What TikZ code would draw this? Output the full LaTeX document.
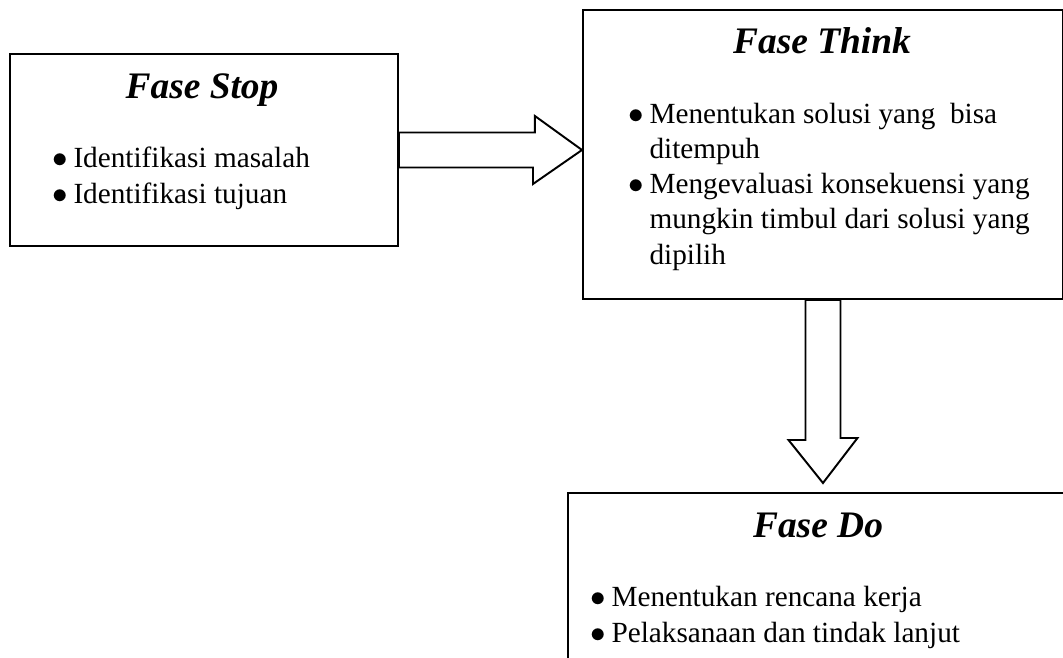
\documentclass[tikz,border=0pt]{standalone}
\usepackage{fontspec}
\setmainfont{Liberation Serif}
\usetikzlibrary{positioning,calc}
\newcommand{\bul}{\makebox[9.8pt][l]{$\bullet$}}
\newcommand{\ind}{\hspace*{9.8pt}}

\begin{document}
\begin{tikzpicture}[
  x=0.465pt, y=-0.465pt,
  fase/.style={draw, line width=0.9pt, inner sep=0, anchor=north west},
  judul/.style={font=\fontsize{17.4}{20}\selectfont\bfseries\itshape, inner sep=0, anchor=base},
  daftar/.style={font=\fontsize{13.6}{16.3}\selectfont, align=left, inner sep=0, anchor=base west},
  blok/.style={draw, line width=0.9pt, line join=miter, fill=white}
]
  \useasboundingbox (0,0) rectangle (1063,657);
  \clip (0,0) rectangle (1063,657);
  % kotak fase
  \node[fase, minimum width=180.4pt, minimum height=89.3pt] (stop) at (9,53) {};
  \node[fase, minimum width=223.2pt, minimum height=134.4pt] (think) at (582,9) {};
  \node[fase, minimum width=236pt, minimum height=87.4pt] (do) at (567,492) {};
  % judul
  \node[judul] (stopj) at (202,98) {Fase Stop};
  \node[judul] (thinkj) at (822,54) {Fase Think};
  \node[judul] (doj) at (818,537) {Fase Do};
  % isi (base = baris terakhir)
  \node[daftar] (stopl) at (52,203) {\bul Identifikasi masalah\\\bul Identifikasi tujuan};
  \node[daftar] (thinkl) at (628,264) {\bul Menentukan solusi yang\ \ bisa\\\ind ditempuh\\\bul Mengevaluasi konsekuensi yang\\\ind mungkin timbul dari solusi yang\\\ind dipilih};
  \node[daftar] (dol) at (590,642) {\bul Menentukan rencana kerja\\\bul Pelaksanaan dan tindak lanjut};
  % panah blok
  \draw[blok] ($(stop.east)+(0,-17.5)$) -- ++(136,0) -- ++(0,-16.5)
    -- (think.west |- stop.east) -- ++(-49,34) -- ++(0,-16.5)
    -- ($(stop.east)+(0,17.5)$) -- cycle;
  \draw[blok] ($(think.south)+(-17.5,0)$) -- ++(0,140) -- ++(-17,0)
    -- ($(think.south |- do.north)+(0,-9)$) -- ++(34.5,-45) -- ++(-17,0)
    -- ($(think.south)+(17.5,0)$) -- cycle;
\end{tikzpicture}
\end{document}
